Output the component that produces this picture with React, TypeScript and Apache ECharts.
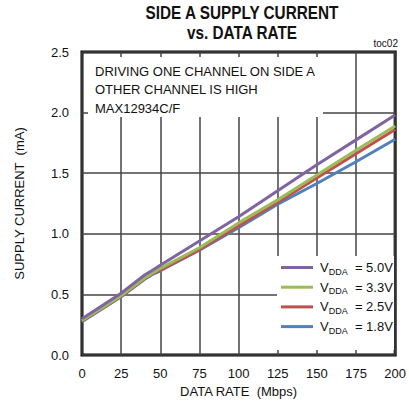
import React, { useEffect, useRef } from "react";
import * as echarts from "echarts";

const dataRates = [0, 25, 40, 45, 50, 75, 100, 125, 150, 175, 200];
const v50 = [0.3, 0.51, 0.66, 0.7, 0.74, 0.94, 1.14, 1.355, 1.57, 1.775, 1.98];
const v33 = [0.285, 0.49, 0.635, 0.675, 0.715, 0.885, 1.09, 1.28, 1.485, 1.69, 1.89];
const v25 = [0.28, 0.485, 0.63, 0.67, 0.7, 0.87, 1.065, 1.26, 1.46, 1.66, 1.86];
const v18 = [0.275, 0.48, 0.625, 0.665, 0.695, 0.865, 1.05, 1.245, 1.415, 1.595, 1.78];
const seriesNames = ["5.0V", "3.3V", "2.5V", "1.8V"];
const seriesColors = ["#8064A2", "#9BBB59", "#C0504D", "#4F81BD"];
const seriesValues = [v50, v33, v25, v18];
const titleLines = ["SIDE A SUPPLY CURRENT", "vs. DATA RATE"];
const noteLines = ["DRIVING ONE CHANNEL ON SIDE A", "OTHER CHANNEL IS HIGH", "MAX12934C/F"];

const FONT = "'Liberation Sans', Arial, Helvetica, sans-serif";

export default function App() {
  const ref = useRef<HTMLDivElement>(null);
  useEffect(() => {
    if (!ref.current) return;
    const chart = echarts.init(ref.current, undefined, { renderer: "svg" });
    const order = [3, 2, 1, 0];
    const series = order.map((i) => ({
      name: seriesNames[i],
      type: "line",
      showSymbol: false,
      symbol: "none",
      z: 3,
      color: seriesColors[i],
      lineStyle: { width: 3, color: seriesColors[i] },
      data: dataRates.map((x, k) => [x, seriesValues[i][k]]),
    }));
    chart.setOption({
      animation: false,
      textStyle: { fontFamily: FONT },
      grid: {
        left: 82,
        right: 10,
        top: 52,
        bottom: 62,
        show: true,
        borderColor: "#000",
        borderWidth: 3,
        backgroundColor: "#fff",
      },
      xAxis: {
        type: "value",
        min: 0,
        max: 200,
        interval: 25,
        name: "DATA RATE  (Mbps)",
        nameLocation: "middle",
        nameGap: 30,
        nameTextStyle: { fontSize: 13, color: "#111", fontFamily: FONT },
        axisLine: { show: false },
        axisTick: { show: false },
        axisLabel: { fontSize: 13, color: "#111", margin: 12, fontFamily: FONT },
        splitLine: { show: true, lineStyle: { color: "#444", width: 1.5 } },
      },
      yAxis: {
        type: "value",
        min: 0,
        max: 2.5,
        interval: 0.5,
        name: "SUPPLY CURRENT  (mA)",
        nameLocation: "middle",
        nameGap: 56,
        nameTextStyle: { fontSize: 13, color: "#111", fontFamily: FONT },
        axisLine: { show: false },
        axisTick: { show: false },
        axisLabel: {
          fontSize: 13,
          color: "#111",
          margin: 13,
          fontFamily: FONT,
          formatter: (v: number) => v.toFixed(1),
        },
        splitLine: { show: true, lineStyle: { color: "#444", width: 1.5 } },
      },
      legend: {
        orient: "vertical",
        left: 281,
        top: 259,
        padding: 0,
        itemWidth: 32,
        itemHeight: 3,
        itemGap: 2.7,
        icon: "rect",
        data: seriesNames,
        formatter: (name: string) => `{v|V}{s|DDA}{n|  = ${name}}`,
        textStyle: {
          color: "#111",
          fontFamily: FONT,
          rich: {
            v: { fontSize: 13, lineHeight: 16, color: "#111", fontFamily: FONT, padding: [0, 0, 0, 2] },
            s: { fontSize: 9, lineHeight: 10, color: "#111", fontFamily: FONT, padding: [8, 0, 0, 0] },
            n: { fontSize: 13, lineHeight: 16, color: "#111", fontFamily: FONT },
          },
        },
      },
      graphic: [
        {
          type: "rect",
          z: 2,
          shape: { x: 88, y: 57, width: 235, height: 60 },
          style: { fill: "#fff" },
        },
        {
          type: "rect",
          z: 2,
          shape: { x: 277, y: 256, width: 117, height: 94 },
          style: { fill: "#fff" },
        },
        ...titleLines.map((t, i) => ({
          type: "text",
          z: 5,
          x: 242,
          y: 13 + i * 20,
          scaleX: 0.875,
          style: {
            text: t,
            align: "center",
            verticalAlign: "middle",
            fill: "#111",
            font: `bold 17.5px ${FONT}`,
          },
        })),
        ...noteLines.map((t, i) => ({
          type: "text",
          z: 5,
          x: 95,
          y: 71 + i * 18.5,
          style: {
            text: t,
            align: "left",
            verticalAlign: "middle",
            fill: "#111",
            font: `13px ${FONT}`,
          },
        })),
        {
          type: "text",
          z: 5,
          x: 398,
          y: 43,
          style: {
            text: "toc02",
            align: "right",
            verticalAlign: "middle",
            fill: "#111",
            font: `10px ${FONT}`,
          },
        },
      ],
      series,
    });
    return () => chart.dispose();
  }, []);
  return (
    <div
      ref={ref}
      style={{ position: "absolute", left: 0, top: 0, width: 409, height: 417, background: "#fff" }}
    />
  );
}
